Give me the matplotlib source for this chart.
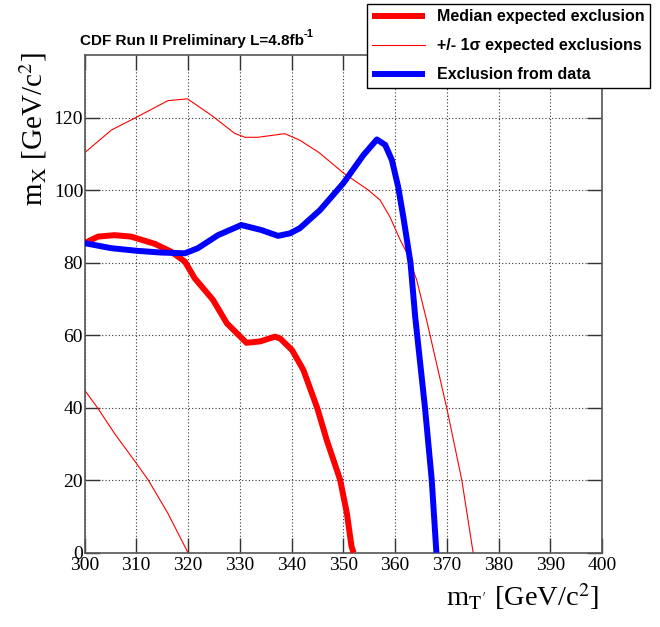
import numpy as np
import matplotlib
matplotlib.use("Agg")
import matplotlib.pyplot as plt

plt.rcParams['font.family'] = ['Liberation Serif', 'DejaVu Serif']
plt.rcParams['mathtext.fontset'] = 'stix'

# median expected exclusion (thick red)
median_x = [300, 302.6, 305.8, 309, 313.6, 316.8, 319.4, 321.3, 324.8, 327.5, 331.3,
            334, 336.8, 337.8, 340.1, 342.3, 345, 346.8, 349.4, 350.7, 351.6, 352.0]
median_y = [85.4, 87.2, 87.6, 87.2, 85.2, 83, 80.3, 75.7, 69.8, 63.3, 57.9,
            58.3, 59.6, 59.1, 55.9, 50.4, 39.8, 31.1, 20.1, 10.9, 1.7, 0]

# +1 sigma expected (thin red, upper)
up_x = [300, 305.2, 310, 316.1, 319.9, 324.5, 329, 331, 333.5, 338.7, 341.6, 345.3,
        350, 354.8, 357.1, 359, 361, 362.3, 364.2, 366.1, 370, 372.9, 375.1]
up_y = [110.3, 116.6, 120.1, 124.7, 125.2, 120.7, 115.7, 114.6, 114.6, 115.6, 113.8, 110.4,
        104.8, 100.1, 97.3, 92.7, 86.3, 82.7, 75.2, 64.2, 39.9, 20.1, 0]

# -1 sigma expected (thin red, lower)
down_x = [300, 302.6, 305.8, 310, 312.3, 316.1, 320]
down_y = [44.9, 39.8, 32.9, 24.7, 20.1, 10.9, 0]

# observed exclusion (thick blue)
data_x = [300, 305.2, 310, 314.8, 319.4, 321.9, 325.8, 330.3, 334.2, 337.4, 339.7, 341.6,
          345.5, 350, 353.9, 356.5, 358.1, 359.4, 360.6, 361.6, 362.3, 363, 363.9,
          365.8, 367.1, 368.0]
data_y = [85.4, 84, 83.3, 82.8, 82.6, 84, 87.6, 90.4, 89, 87.4, 88.1, 89.5,
          94.5, 101.9, 109.7, 114, 112.5, 108.3, 101, 92.7, 86.3, 79.9, 65.1,
          39.9, 20.1, 0]

xticks = np.arange(300, 401, 10)
yticks = np.arange(0, 121, 20)

fig = plt.figure(figsize=(6.6, 6.27), dpi=100)
ax = fig.add_axes([84.5 / 660, 1 - 552.7 / 627, (602 - 84.5) / 660, (552.7 - 55) / 627])

l1, = ax.plot(median_x, median_y, color='#ff0000', lw=4.3, solid_capstyle='butt', zorder=3)
l2, = ax.plot(up_x, up_y, color='#ff0000', lw=0.8, zorder=2)
ax.plot(down_x, down_y, color='#ff0000', lw=0.8, zorder=2)
l3, = ax.plot(data_x, data_y, color='#0000ff', lw=4.3, solid_capstyle='butt', zorder=4)

ax.set_xlim(300, 400)
ax.set_ylim(0, 137.3)
ax.set_xticks(xticks)
ax.set_yticks(yticks)
ax.tick_params(direction='in', length=10.5, width=1, color='#333333', labelsize=14,
               top=True, right=True, pad=3)
ax.tick_params(axis='y', pad=1)
ax.grid(True, linestyle=(0, (1, 2)), color='#333333', lw=0.8)
for s in ax.spines.values():
    s.set_color('#555555')
    s.set_linewidth(1.2)

ax.set_xlabel(r"m$_{\mathrm{T}^{\prime}}$ [GeV/c$^{2}$]", fontsize=20.5, loc='right')
ax.xaxis.set_label_coords(0.995, -0.058)
ax.set_ylabel(r"m$_{\mathrm{X}}$ [GeV/c$^{2}$]", fontsize=21, loc='top')
ax.yaxis.set_label_coords(-0.068, 1.005)

t = fig.text(80 / 660, 1 - 45 / 627, "CDF Run II Preliminary L=4.8fb",
             fontsize=11, fontweight='bold', family='Liberation Sans')
ax.annotate("-1", xy=(1, 1), xycoords=t, va='center', ha='left', fontsize=8,
            fontweight='bold', family='Liberation Sans')

leg = fig.legend([l1, l2, l3],
                 ["Median expected exclusion", "+/- 1\u03c3 expected exclusions",
                  "Exclusion from data"],
                 loc='lower left', bbox_to_anchor=(366.7 / 660, 1 - 88 / 627),
                 prop={'family': 'Liberation Sans', 'weight': 'bold', 'size': 11.5},
                 fancybox=False, edgecolor='black', framealpha=1,
                 handlelength=3.3, handletextpad=0.75, labelspacing=0.88,
                 borderpad=0.35, borderaxespad=0)
leg.get_frame().set_linewidth(1.0)

fig.savefig("out.png", dpi=100)
